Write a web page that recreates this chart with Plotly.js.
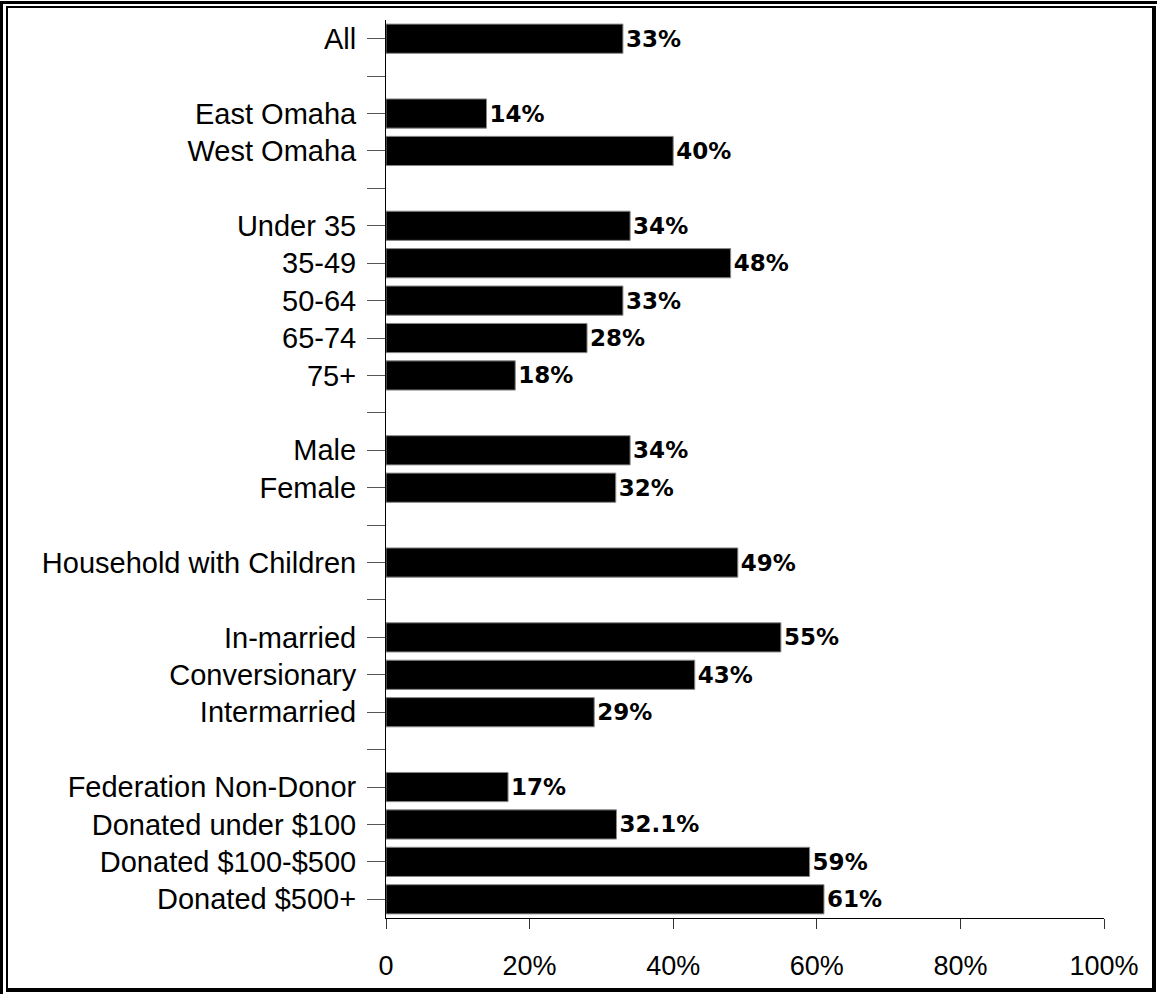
<!DOCTYPE html>
<html>
<head>
<meta charset="utf-8">
<script src="https://cdn.plot.ly/plotly-3.0.1.min.js"></script>
<style>
  html, body { margin: 0; padding: 0; background: #fff; }
  #wrap { position: relative; width: 1157px; height: 994px; overflow: hidden; }
  #chart { position: absolute; left: 0; top: 0; width: 1157px; height: 994px; }
  #outer { position: absolute; left: 0; top: 1px; width: 1157px; height: 993px; box-sizing: border-box;
           border-top: 3px solid #000; border-left: 3px solid #000; pointer-events: none; }
  #inner { position: absolute; left: 6px; top: 6px; width: 1150px; height: 986px; box-sizing: border-box;
           border-top: 2px solid #000; border-left: 2px solid #000; border-right: 4px solid #000; border-bottom: 4px solid #000; pointer-events: none; }
</style>
</head>
<body>
<div id="wrap">
  <div id="chart"></div>
  <div id="outer"></div>
  <div id="inner"></div>
</div>
<script>
// Categories, top to bottom ("" = blank spacer row)
const categories = [
  "All", "",
  "East Omaha", "West Omaha", "",
  "Under 35", "35-49", "50-64", "65-74", "75+", "",
  "Male", "Female", "",
  "Household with Children", "",
  "In-married", "Conversionary", "Intermarried", "",
  "Federation Non-Donor", "Donated under $100", "Donated $100-$500", "Donated $500+"
];
// Percent values (null for spacer rows)
const values = [
  33, null,
  14, 40, null,
  34, 48, 33, 28, 18, null,
  34, 32, null,
  49, null,
  55, 43, 29, null,
  17, 32.1, 59, 61
];
const valueLabels = [
  "33%", "",
  "14%", "40%", "",
  "34%", "48%", "33%", "28%", "18%", "",
  "34%", "32%", "",
  "49%", "",
  "55%", "43%", "29%", "",
  "17%", "32.1%", "59%", "61%"
];
const xTickVals = [0, 20, 40, 60, 80, 100];
const xTickText = ["0", "20%", "40%", "60%", "80%", "100%"];

const positions = categories.map((c, i) => i);

const trace = {
  type: "bar",
  orientation: "h",
  y: positions,
  x: values,
  width: 0.78,
  marker: { color: "#000000", line: { color: "#888888", width: 1 } },
  text: valueLabels,
  textposition: "outside",
  cliponaxis: false,
  textfont: { family: "DejaVu Sans", size: 23, color: "#000", weight: "bold" },
  hoverinfo: "none"
};

const layout = {
  width: 1157,
  height: 994,
  margin: { l: 386, r: 53, t: 20, b: 76 },
  paper_bgcolor: "#ffffff",
  plot_bgcolor: "#ffffff",
  showlegend: false,
  bargap: 0.22,
  xaxis: {
    range: [0, 100],
    tickvals: xTickVals,
    ticktext: xTickText,
    showgrid: false,
    zeroline: false,
    showline: true,
    linecolor: "#000",
    linewidth: 1,
    ticks: "outside",
    ticklen: 10,
    tickcolor: "#333",
    tickwidth: 1,
    ticklabelstandoff: 14,
    tickfont: { family: "Liberation Sans, Arial, sans-serif", size: 27, color: "#000" },
    fixedrange: true
  },
  yaxis: {
    range: [categories.length - 0.5, -0.5],
    tickvals: positions,
    ticktext: categories,
    showgrid: false,
    zeroline: false,
    showline: true,
    linecolor: "#000",
    linewidth: 1,
    ticks: "outside",
    ticklen: 18,
    tickcolor: "#555",
    tickwidth: 1,
    ticklabelstandoff: 5,
    tickfont: { family: "Liberation Sans, Arial, sans-serif", size: 29, color: "#000" },
    fixedrange: true
  }
};

Plotly.newPlot("chart", [trace], layout, { displayModeBar: false, staticPlot: true });
</script>
</body>
</html>
